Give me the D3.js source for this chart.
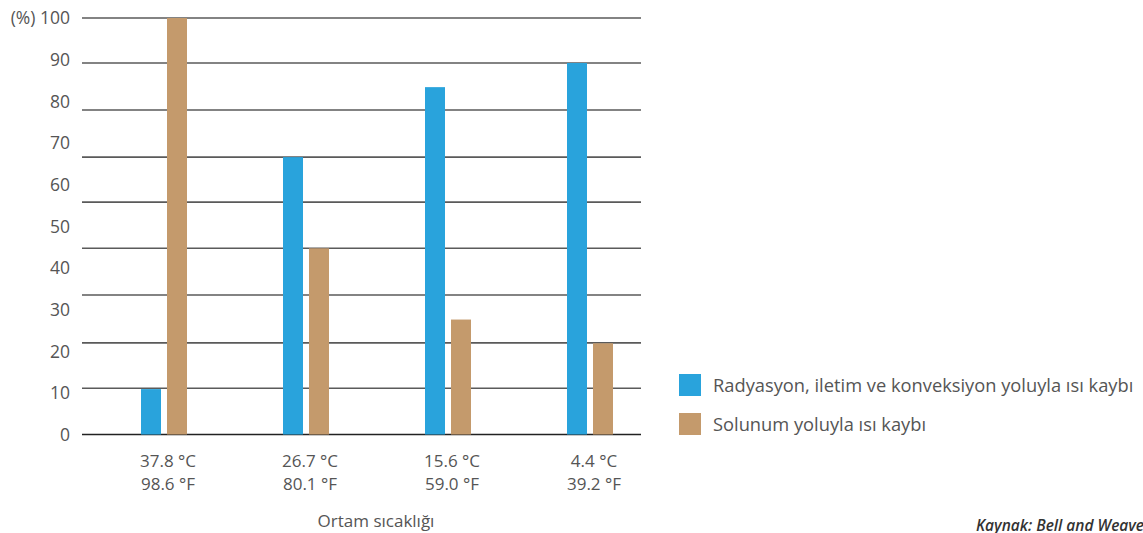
<!DOCTYPE html>
<html><head><meta charset="utf-8">
<script src="https://cdn.jsdelivr.net/npm/d3@7"></script>
<style>
html,body{margin:0;padding:0;background:#fff;}
text{font-family:"Open Sans","Noto Sans",sans-serif;}
</style></head>
<body>
<svg id="chart" width="1143" height="533"></svg>
<script>
const categoriesC = ["37.8 °C", "26.7 °C", "15.6 °C", "4.4 °C"];
const categoriesF = ["98.6 °F", "80.1 °F", "59.0 °F", "39.2 °F"];
const radiationValues = [10.9, 66.6, 83.4, 89.2];
const respirationValues = [100, 44.7, 27.6, 21.9];
const seriesNames = ["Radyasyon, iletim ve konveksiyon yoluyla ısı kaybı", "Solunum yoluyla ısı kaybı"];
const tickValues = [0, 10, 20, 30, 40, 50, 60, 70, 80, 90, 100];
const gridValues = [0, 11.1, 22.0, 33.5, 44.7, 55.8, 66.6, 77.9, 89.2, 100];
const xTitle = "Ortam sıcaklığı";
const yUnit = "(%)";
const source = "Kaynak: Bell and Weaver";

const colors = ["#29a3dc", "#c49a6c"];
const svg = d3.select("#chart");

const y = d3.scaleLinear().domain([0, 100]).range([434.5, 18]);
const x = d3.scaleBand().domain(d3.range(categoriesC.length)).range([93, 661]);
const barW = 20, gap = 6;

// gridlines
svg.append("g").selectAll("line").data(gridValues).join("line")
  .attr("x1", 82).attr("x2", 641)
  .attr("y1", d => y(d)).attr("y2", d => y(d))
  .attr("stroke", d => d === 0 ? "#222" : "#5a5a5a")
  .attr("stroke-width", 1.6);

// tick labels
svg.append("g").selectAll("text").data(tickValues).join("text")
  .attr("x", 70).attr("y", d => y(d))
  .attr("dy", "0.36em")
  .attr("text-anchor", "end")
  .attr("font-size", 17.5).attr("fill", "#555")
  .text(d => d === 100 ? yUnit + " " + d : d);

// bars
const groups = svg.append("g").selectAll("g").data(categoriesC.map((c, i) => i)).join("g");
groups.append("rect")
  .attr("x", i => x(i) + x.bandwidth() / 2 - barW - gap / 2)
  .attr("y", i => y(radiationValues[i]))
  .attr("width", barW)
  .attr("height", i => y(0) - y(radiationValues[i]))
  .attr("fill", colors[0]);
groups.append("rect")
  .attr("x", i => x(i) + x.bandwidth() / 2 + gap / 2)
  .attr("y", i => y(respirationValues[i]))
  .attr("width", barW)
  .attr("height", i => y(0) - y(respirationValues[i]))
  .attr("fill", colors[1]);

// category labels
const lab = svg.append("g").selectAll("text").data(categoriesC.map((c, i) => i)).join("text")
  .attr("text-anchor", "middle")
  .attr("font-size", 17).attr("fill", "#555");
lab.append("tspan").attr("x", i => x(i) + x.bandwidth() / 2 + 4).attr("y", 467).text(i => categoriesC[i]);
lab.append("tspan").attr("x", i => x(i) + x.bandwidth() / 2 + 4).attr("y", 490).text(i => categoriesF[i]);

svg.append("text").attr("x", 376).attr("y", 527)
  .attr("text-anchor", "middle").attr("font-size", 17).attr("fill", "#555")
  .text(xTitle);

// legend
const leg = svg.append("g").selectAll("g").data(seriesNames).join("g")
  .attr("transform", (d, i) => `translate(679, ${374 + i * 39})`);
leg.append("rect").attr("width", 22).attr("height", 22).attr("fill", (d, i) => colors[i]);
leg.append("text").attr("x", 34).attr("y", 11).attr("dy", "0.36em")
  .attr("font-size", 18.3).attr("fill", "#555").text(d => d);

// source (cut at the right edge, as in the reference)
svg.append("text").attr("x", 976).attr("y", 531)
  .attr("font-size", 15.5).attr("font-style", "italic").attr("font-weight", 600)
  .attr("fill", "#333").text(source);
</script>
</body></html>
